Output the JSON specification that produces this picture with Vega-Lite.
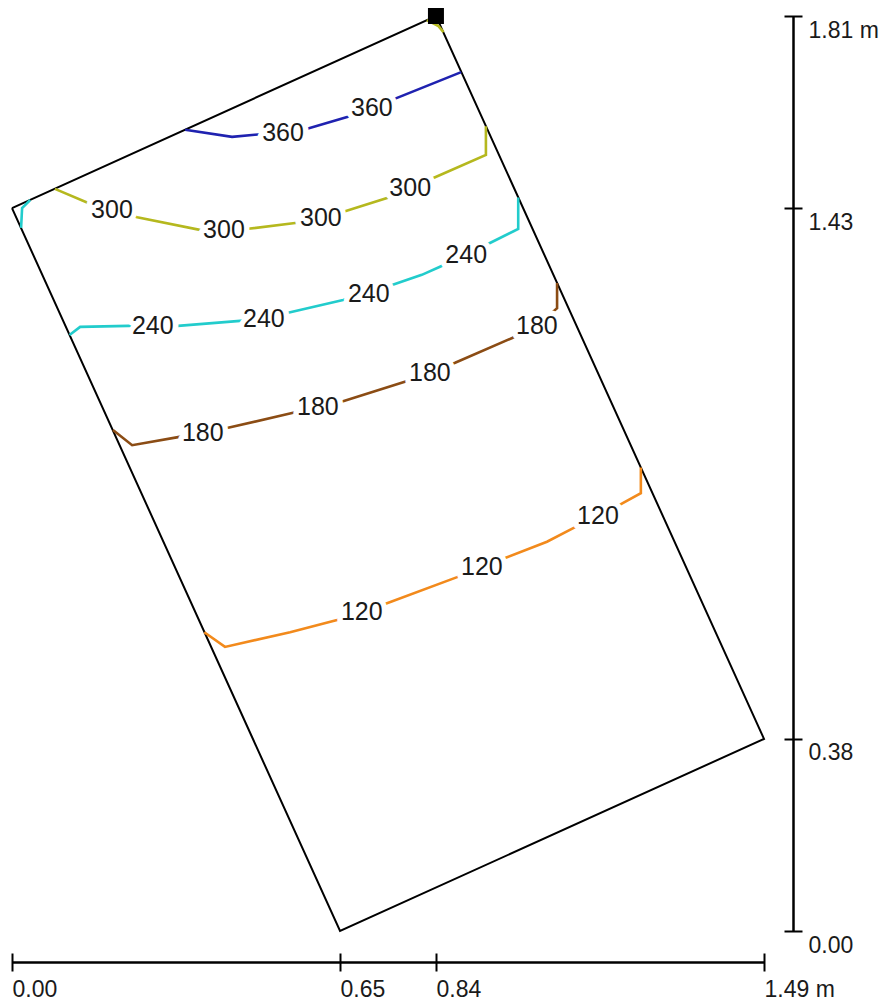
{
  "$schema": "https://vega.github.io/schema/vega-lite/v6.json",
  "width": 752,
  "height": 915,
  "autosize": {"type": "none"},
  "padding": {"left": 12, "top": 16, "right": 120, "bottom": 71},
  "background": "white",
  "config": {"view": {"stroke": null}, "font": "Liberation Sans"},
  "datasets": {
    "outline": [
      {"i": 0, "x": 0.0, "y": 1.43},
      {"i": 1, "x": 0.84, "y": 1.81},
      {"i": 2, "x": 1.49, "y": 0.38},
      {"i": 3, "x": 0.65, "y": 0.0},
      {"i": 4, "x": 0.0, "y": 1.43}
    ],
    "contours": [
      {"seg": "a420", "level": "420", "i": 0, "x": 0.822, "y": 1.802},
      {"seg": "a420", "level": "420", "i": 1, "x": 0.845, "y": 1.79},
      {"seg": "a420", "level": "420", "i": 2, "x": 0.855, "y": 1.778},

      {"seg": "a360", "level": "360", "i": 0, "x": 0.343, "y": 1.585},
      {"seg": "a360", "level": "360", "i": 1, "x": 0.436, "y": 1.571},
      {"seg": "a360", "level": "360", "i": 2, "x": 0.481, "y": 1.575},
      {"seg": "a360", "level": "360", "i": 3, "x": 0.535, "y": 1.579},
      {"seg": "a360", "level": "360", "i": 4, "x": 0.585, "y": 1.587},
      {"seg": "a360", "level": "360", "i": 5, "x": 0.664, "y": 1.61},
      {"seg": "a360", "level": "360", "i": 6, "x": 0.713, "y": 1.628},
      {"seg": "a360", "level": "360", "i": 7, "x": 0.763, "y": 1.648},
      {"seg": "a360", "level": "360", "i": 8, "x": 0.89, "y": 1.699},

      {"seg": "a300", "level": "300", "i": 0, "x": 0.085, "y": 1.468},
      {"seg": "a300", "level": "300", "i": 1, "x": 0.151, "y": 1.44},
      {"seg": "a300", "level": "300", "i": 2, "x": 0.2, "y": 1.426},
      {"seg": "a300", "level": "300", "i": 3, "x": 0.248, "y": 1.412},
      {"seg": "a300", "level": "300", "i": 4, "x": 0.372, "y": 1.387},
      {"seg": "a300", "level": "300", "i": 5, "x": 0.42, "y": 1.387},
      {"seg": "a300", "level": "300", "i": 6, "x": 0.468, "y": 1.389},
      {"seg": "a300", "level": "300", "i": 7, "x": 0.565, "y": 1.401},
      {"seg": "a300", "level": "300", "i": 8, "x": 0.614, "y": 1.412},
      {"seg": "a300", "level": "300", "i": 9, "x": 0.66, "y": 1.424},
      {"seg": "a300", "level": "300", "i": 10, "x": 0.743, "y": 1.45},
      {"seg": "a300", "level": "300", "i": 11, "x": 0.789, "y": 1.47},
      {"seg": "a300", "level": "300", "i": 12, "x": 0.836, "y": 1.49},
      {"seg": "a300", "level": "300", "i": 13, "x": 0.939, "y": 1.535},
      {"seg": "a300", "level": "300", "i": 14, "x": 0.939, "y": 1.592},

      {"seg": "b240", "level": "240", "i": 0, "x": 0.036, "y": 1.446},
      {"seg": "b240", "level": "240", "i": 1, "x": 0.02, "y": 1.43},
      {"seg": "b240", "level": "240", "i": 2, "x": 0.018, "y": 1.391},

      {"seg": "a240", "level": "240", "i": 0, "x": 0.114, "y": 1.179},
      {"seg": "a240", "level": "240", "i": 1, "x": 0.135, "y": 1.195},
      {"seg": "a240", "level": "240", "i": 2, "x": 0.23, "y": 1.197},
      {"seg": "a240", "level": "240", "i": 3, "x": 0.279, "y": 1.197},
      {"seg": "a240", "level": "240", "i": 4, "x": 0.329, "y": 1.197},
      {"seg": "a240", "level": "240", "i": 5, "x": 0.452, "y": 1.207},
      {"seg": "a240", "level": "240", "i": 6, "x": 0.499, "y": 1.211},
      {"seg": "a240", "level": "240", "i": 7, "x": 0.547, "y": 1.223},
      {"seg": "a240", "level": "240", "i": 8, "x": 0.656, "y": 1.248},
      {"seg": "a240", "level": "240", "i": 9, "x": 0.707, "y": 1.262},
      {"seg": "a240", "level": "240", "i": 10, "x": 0.753, "y": 1.278},
      {"seg": "a240", "level": "240", "i": 11, "x": 0.812, "y": 1.298},
      {"seg": "a240", "level": "240", "i": 12, "x": 0.848, "y": 1.314},
      {"seg": "a240", "level": "240", "i": 13, "x": 0.898, "y": 1.337},
      {"seg": "a240", "level": "240", "i": 14, "x": 0.947, "y": 1.361},
      {"seg": "a240", "level": "240", "i": 15, "x": 1.003, "y": 1.389},
      {"seg": "a240", "level": "240", "i": 16, "x": 1.003, "y": 1.451},

      {"seg": "a180", "level": "180", "i": 0, "x": 0.2, "y": 0.991},
      {"seg": "a180", "level": "180", "i": 1, "x": 0.238, "y": 0.961},
      {"seg": "a180", "level": "180", "i": 2, "x": 0.329, "y": 0.977},
      {"seg": "a180", "level": "180", "i": 3, "x": 0.378, "y": 0.985},
      {"seg": "a180", "level": "180", "i": 4, "x": 0.426, "y": 0.995},
      {"seg": "a180", "level": "180", "i": 5, "x": 0.557, "y": 1.025},
      {"seg": "a180", "level": "180", "i": 6, "x": 0.606, "y": 1.037},
      {"seg": "a180", "level": "180", "i": 7, "x": 0.656, "y": 1.048},
      {"seg": "a180", "level": "180", "i": 8, "x": 0.783, "y": 1.088},
      {"seg": "a180", "level": "180", "i": 9, "x": 0.828, "y": 1.104},
      {"seg": "a180", "level": "180", "i": 10, "x": 0.878, "y": 1.124},
      {"seg": "a180", "level": "180", "i": 11, "x": 0.991, "y": 1.173},
      {"seg": "a180", "level": "180", "i": 12, "x": 1.042, "y": 1.199},
      {"seg": "a180", "level": "180", "i": 13, "x": 1.08, "y": 1.232},
      {"seg": "a180", "level": "180", "i": 14, "x": 1.08, "y": 1.282},

      {"seg": "a120", "level": "120", "i": 0, "x": 0.381, "y": 0.591},
      {"seg": "a120", "level": "120", "i": 1, "x": 0.422, "y": 0.562},
      {"seg": "a120", "level": "120", "i": 2, "x": 0.551, "y": 0.591},
      {"seg": "a120", "level": "120", "i": 3, "x": 0.644, "y": 0.615},
      {"seg": "a120", "level": "120", "i": 4, "x": 0.693, "y": 0.631},
      {"seg": "a120", "level": "120", "i": 5, "x": 0.739, "y": 0.647},
      {"seg": "a120", "level": "120", "i": 6, "x": 0.882, "y": 0.7},
      {"seg": "a120", "level": "120", "i": 7, "x": 0.931, "y": 0.72},
      {"seg": "a120", "level": "120", "i": 8, "x": 0.977, "y": 0.738},
      {"seg": "a120", "level": "120", "i": 9, "x": 1.06, "y": 0.77},
      {"seg": "a120", "level": "120", "i": 10, "x": 1.112, "y": 0.797},
      {"seg": "a120", "level": "120", "i": 11, "x": 1.161, "y": 0.819},
      {"seg": "a120", "level": "120", "i": 12, "x": 1.211, "y": 0.847},
      {"seg": "a120", "level": "120", "i": 13, "x": 1.246, "y": 0.866},
      {"seg": "a120", "level": "120", "i": 14, "x": 1.246, "y": 0.917}
    ],
    "labels": [
      {"label": "360", "x": 0.537, "y": 1.578},
      {"label": "360", "x": 0.713, "y": 1.628},
      {"label": "300", "x": 0.198, "y": 1.426},
      {"label": "300", "x": 0.42, "y": 1.387},
      {"label": "300", "x": 0.612, "y": 1.41},
      {"label": "300", "x": 0.789, "y": 1.47},
      {"label": "240", "x": 0.279, "y": 1.197},
      {"label": "240", "x": 0.499, "y": 1.211},
      {"label": "240", "x": 0.707, "y": 1.26},
      {"label": "240", "x": 0.9, "y": 1.337},
      {"label": "180", "x": 0.378, "y": 0.985},
      {"label": "180", "x": 0.606, "y": 1.037},
      {"label": "180", "x": 0.828, "y": 1.104},
      {"label": "180", "x": 1.04, "y": 1.197},
      {"label": "120", "x": 0.693, "y": 0.631},
      {"label": "120", "x": 0.931, "y": 0.72},
      {"label": "120", "x": 1.161, "y": 0.821}
    ],
    "marker": [{"x": 0.84, "y": 1.81}]
  },
  "layer": [
    {
      "data": {"name": "outline"},
      "mark": {"type": "line", "color": "#000000", "strokeWidth": 2, "clip": false},
      "encoding": {
        "x": {"field": "x", "type": "quantitative", "scale": {"domain": [0, 1.49], "zero": false, "nice": false},
          "axis": {"orient": "bottom", "offset": 22, "values": [0, 0.65, 0.84, 1.49], "domain": false, "grid": false,
            "ticks": true, "tickSize": 18, "tickWidth": 2, "tickColor": "#000000",
            "labels": true, "labelAlign": "left", "labelBaseline": "top", "labelPadding": 7, "labelFontSize": 23,
            "labelColor": "#1a1a1a", "labelFont": "Liberation Sans", "labelOverlap": false, "labelFlush": false,
            "labelExpr": "datum.value == 1.49 ? format(datum.value, '.2f') + ' m' : format(datum.value, '.2f')",
            "title": null}},
        "y": {"field": "y", "type": "quantitative", "scale": {"domain": [0, 1.81], "zero": false, "nice": false},
          "axis": {"orient": "right", "offset": 20, "values": [0, 0.38, 1.43, 1.81], "domain": false, "grid": false,
            "ticks": true, "tickSize": 18, "tickWidth": 2, "tickColor": "#000000",
            "labels": true, "labelAlign": "left", "labelBaseline": "top", "labelPadding": 6, "labelOffset": 3,
            "labelFontSize": 23, "labelColor": "#1a1a1a", "labelFont": "Liberation Sans", "labelOverlap": false, "labelFlush": false,
            "labelExpr": "datum.value == 1.81 ? format(datum.value, '.2f') + ' m' : format(datum.value, '.2f')",
            "title": null}},
        "order": {"field": "i", "type": "quantitative"}
      }
    },
    {
      "data": {"name": "contours"},
      "mark": {"type": "line", "strokeWidth": 2.6, "clip": false},
      "encoding": {
        "x": {"field": "x", "type": "quantitative", "scale": {"domain": [0, 1.49], "zero": false, "nice": false},
          "axis": {"orient": "bottom", "offset": 31, "values": [0, 1.49], "domain": true, "domainWidth": 2.5, "domainColor": "#000000",
            "ticks": false, "labels": false, "grid": false, "title": null}},
        "y": {"field": "y", "type": "quantitative", "scale": {"domain": [0, 1.81], "zero": false, "nice": false},
          "axis": {"orient": "right", "offset": 29, "values": [0, 1.81], "domain": true, "domainWidth": 2.5, "domainColor": "#000000",
            "ticks": false, "labels": false, "grid": false, "title": null}},
        "color": {"field": "level", "type": "nominal", "legend": null,
          "scale": {"domain": ["120", "180", "240", "300", "360", "420"],
            "range": ["#f28a1c", "#8b4c14", "#22cccc", "#b5b81e", "#1f22b0", "#b5b81e"]}},
        "detail": {"field": "seg", "type": "nominal"},
        "order": {"field": "i", "type": "quantitative"}
      }
    },
    {
      "data": {"name": "labels"},
      "mark": {"type": "text", "fontSize": 25, "font": "Liberation Sans", "fill": "white", "stroke": "white", "strokeWidth": 11, "strokeJoin": "round", "baseline": "middle", "align": "center"},
      "encoding": {
        "x": {"field": "x", "type": "quantitative", "axis": null},
        "y": {"field": "y", "type": "quantitative", "axis": null},
        "text": {"field": "label", "type": "nominal"}
      }
    },
    {
      "data": {"name": "labels"},
      "mark": {"type": "text", "fontSize": 25, "font": "Liberation Sans", "color": "#1a1a1a", "baseline": "middle", "align": "center"},
      "encoding": {
        "x": {"field": "x", "type": "quantitative", "axis": null},
        "y": {"field": "y", "type": "quantitative", "axis": null},
        "text": {"field": "label", "type": "nominal"}
      }
    },
    {
      "data": {"name": "marker"},
      "mark": {"type": "point", "shape": "square", "filled": true, "size": 256, "color": "#000000", "opacity": 1, "clip": false},
      "encoding": {
        "x": {"field": "x", "type": "quantitative", "axis": null},
        "y": {"field": "y", "type": "quantitative", "axis": null}
      }
    }
  ],
  "resolve": {"axis": {"x": "independent", "y": "independent"}}
}
